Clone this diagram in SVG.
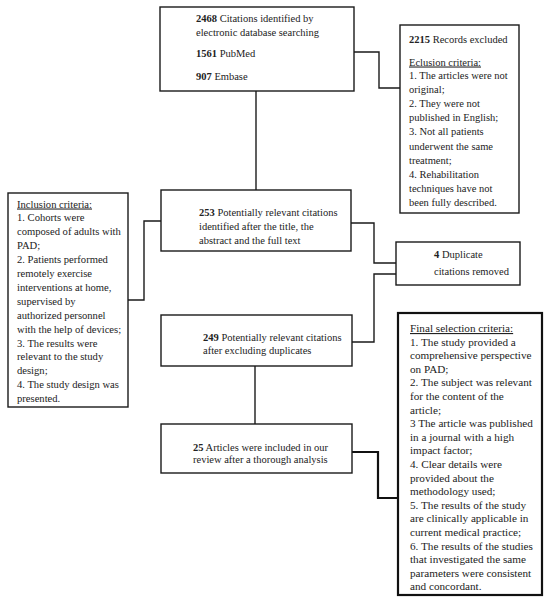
<svg xmlns="http://www.w3.org/2000/svg" width="550" height="602" viewBox="0 0 550 602">
<style>
.box{fill:#fff;stroke:#1a1a1a;stroke-width:1.4}
.thick{fill:#fff;stroke:#111;stroke-width:2.2}
.ln{fill:none;stroke:#1a1a1a;stroke-width:1.4}
.lnt{fill:none;stroke:#111;stroke-width:2.2}
text{font-family:"Liberation Serif","Times New Roman",serif;fill:#222}
.t{font-size:10.5px}
.s{font-size:10.6px}
.f{font-size:11.2px}
.b{font-weight:bold}
.u{text-decoration:underline}
</style>
<rect width="550" height="602" fill="#fff"/>
<g id="connectors">
<path class="ln" d="M256,91 V190"/>
<path class="ln" d="M354,52 H379 V88 H400"/>
<path class="ln" d="M128,300 H144 V221 H161"/>
<path class="ln" d="M351,223 H374 V263 H396"/>
<path class="ln" d="M396,274 H374 V342 H352"/>
<path class="ln" d="M255,366 V424"/>
<path class="lnt" d="M352,452 H378 V498 H398"/>
</g>
<g id="identified">
<rect class="box" x="160" y="7" width="194" height="84"/>
<text class="t" x="196" y="22"><tspan class="b">2468</tspan> Citations identified by</text>
<text class="t" x="196" y="36">electronic database searching</text>
<text class="t" x="196" y="57"><tspan class="b">1561</tspan> PubMed</text>
<text class="t" x="196" y="80"><tspan class="b">907</tspan> Embase</text>
</g>
<g id="excluded">
<rect class="box" x="400" y="25" width="119" height="188"/>
<text class="t" x="409" y="42.5"><tspan class="b">2215</tspan> Records excluded</text>
<text class="t u" x="409" y="65.5">Eclusion criteria:</text>
<text class="t" x="409" y="78.5">1. The articles were not</text>
<text class="t" x="409" y="92.7">original;</text>
<text class="t" x="409" y="106.9">2. They were not</text>
<text class="t" x="409" y="121.1">published in English;</text>
<text class="t" x="409" y="135.3">3. Not all patients</text>
<text class="t" x="409" y="149.5">underwent the same</text>
<text class="t" x="409" y="163.7">treatment;</text>
<text class="t" x="409" y="177.9">4. Rehabilitation</text>
<text class="t" x="409" y="192.1">techniques have not</text>
<text class="t" x="409" y="206.3">been fully described.</text>
</g>
<g id="inclusion">
<rect class="box" x="8" y="193" width="120" height="214"/>
<text class="s u" x="17" y="207.5">Inclusion criteria:</text>
<text class="s" x="17" y="221.4">1. Cohorts were</text>
<text class="s" x="17" y="235.3">composed of adults with</text>
<text class="s" x="17" y="249.2">PAD;</text>
<text class="s" x="17" y="263.1">2. Patients performed</text>
<text class="s" x="17" y="277">remotely exercise</text>
<text class="s" x="17" y="290.9">interventions at home,</text>
<text class="s" x="17" y="304.8">supervised by</text>
<text class="s" x="17" y="318.7">authorized personnel</text>
<text class="s" x="17" y="332.6">with the help of devices;</text>
<text class="s" x="17" y="346.5">3. The results were</text>
<text class="s" x="17" y="360.4">relevant to the study</text>
<text class="s" x="17" y="374.3">design;</text>
<text class="s" x="17" y="388.2">4. The study design was</text>
<text class="s" x="17" y="402.1">presented.</text>
</g>
<g id="relevant253">
<rect class="box" x="161" y="190" width="190" height="61"/>
<text class="t" x="199" y="216"><tspan class="b">253</tspan> Potentially relevant citations</text>
<text class="t" x="199" y="230">identified after the title, the</text>
<text class="t" x="199" y="244">abstract and the full text</text>
</g>
<g id="duplicates">
<rect class="box" x="396" y="242" width="124" height="43"/>
<text class="t" x="434" y="258"><tspan class="b">4</tspan> Duplicate</text>
<text class="t" x="434" y="274.5">citations removed</text>
</g>
<g id="relevant249">
<rect class="box" x="161" y="315" width="191" height="51"/>
<text class="t" x="203" y="340.5"><tspan class="b">249</tspan> Potentially relevant citations</text>
<text class="t" x="203" y="354">after excluding duplicates</text>
</g>
<g id="included25">
<rect class="box" x="161" y="424" width="191" height="49"/>
<text class="t" x="193" y="450.5"><tspan class="b">25</tspan> Articles were included in our</text>
<text class="t" x="193" y="463">review after a thorough analysis</text>
</g>
<g id="final">
<rect class="thick" x="398" y="313" width="144" height="282"/>
<text class="f u" x="410" y="332">Final selection criteria:</text>
<text class="f" x="410" y="345.6">1. The study provided a</text>
<text class="f" x="410" y="359.2">comprehensive perspective</text>
<text class="f" x="410" y="372.8">on PAD;</text>
<text class="f" x="410" y="386.4">2. The subject was relevant</text>
<text class="f" x="410" y="400">for the content of the</text>
<text class="f" x="410" y="413.6">article;</text>
<text class="f" x="410" y="427.2">3 The article was published</text>
<text class="f" x="410" y="440.8">in a journal with a high</text>
<text class="f" x="410" y="454.4">impact factor;</text>
<text class="f" x="410" y="468">4. Clear details were</text>
<text class="f" x="410" y="481.6">provided about the</text>
<text class="f" x="410" y="495.2">methodology used;</text>
<text class="f" x="410" y="508.8">5. The results of the study</text>
<text class="f" x="410" y="522.4">are clinically applicable in</text>
<text class="f" x="410" y="536">current medical practice;</text>
<text class="f" x="410" y="549.6">6. The results of the studies</text>
<text class="f" x="410" y="563.2">that investigated the same</text>
<text class="f" x="410" y="576.8">parameters were consistent</text>
<text class="f" x="410" y="590.4">and concordant.</text>
</g>
</svg>
